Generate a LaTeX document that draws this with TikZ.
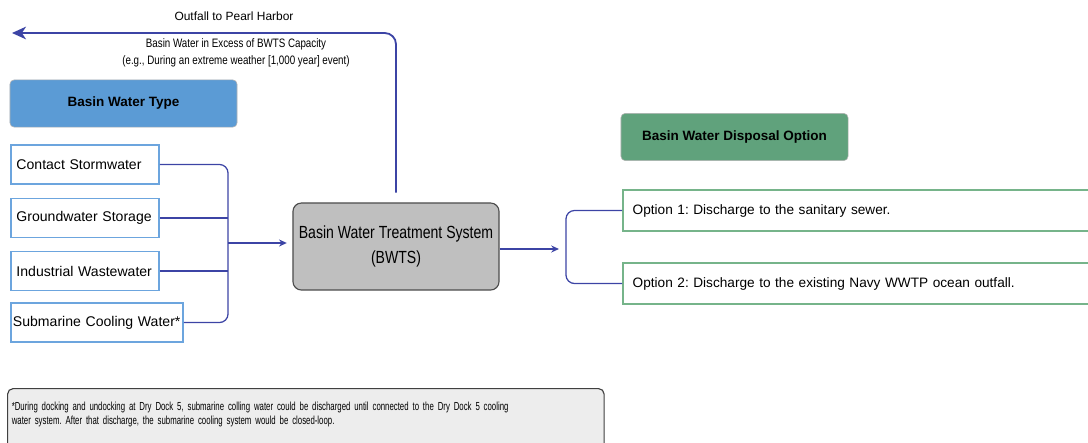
\documentclass[tikz,border=0pt]{standalone}
\usepackage{fontspec}
\setmainfont{Liberation Sans}
\newfontfamily\narrowsans[FakeStretch=0.8]{Liberation Sans}
\newfontfamily\footsans[FakeStretch=0.67]{Liberation Sans}
\usepackage{xcolor}
\usepackage{tikz}
\usetikzlibrary{arrows.meta}
\frenchspacing
\definecolor{typeblue}{RGB}{91,155,213}
\definecolor{srcblue}{RGB}{108,165,222}
\definecolor{dispgreen}{RGB}{96,162,124}
\definecolor{optgreen}{RGB}{118,180,138}
\definecolor{flowline}{RGB}{60,68,165}
\definecolor{bwtsgray}{RGB}{191,191,191}
\definecolor{notegray}{RGB}{237,237,237}

\begin{document}
\begin{tikzpicture}[x=0.025cm, y=-0.025cm,
  header/.style={draw=gray!60, rounded corners=3pt, minimum width=5.675cm, minimum height=1.18cm, font=\fontsize{9.6}{11}\selectfont\bfseries},
  srcbox/.style={draw=srcblue, line width=1.2pt, anchor=west, minimum height=0.975cm, text width=3.42cm, inner xsep=4pt, font=\fontsize{10}{12}\selectfont},
  optbox/.style={draw=optgreen, line width=1.2pt, anchor=west, minimum height=1.025cm, text width=11.5cm, inner xsep=7pt, font=\fontsize{9.7}{12}\selectfont},
  flow/.style={draw=flowline, line width=0.9pt},
  flowarrow/.style={flow, -{Stealth[length=5.5pt, width=5pt]}}]
  \useasboundingbox (0,0) rectangle (1088,442);
  \clip (0,0) rectangle (1088,442);

  \node[header, fill=typeblue] (typehdr) at (123.5,103.5) {Basin Water Type};
  \node[header, fill=dispgreen] (disphdr) at (734.5,137) {Basin Water Disposal Option};

  \node[srcbox] (src1) at (10,164.5) {Contact Stormwater};
  \node[srcbox] (src2) at (10,218) {Groundwater Storage};
  \node[srcbox] (src3) at (10,271) {Industrial Wastewater};
  \node[srcbox, inner xsep=1.5pt, text width=4.2cm] (src4) at (10,322.5) {\mbox{Submarine Cooling Water*}};

  \node[draw=gray!60!black, fill=bwtsgray, line width=0.8pt, rounded corners=6pt, minimum width=5.15cm, minimum height=2.175cm, align=center, font=\narrowsans\fontsize{12.5}{17.5}\selectfont] (bwts) at (396,246.5) {Basin Water Treatment System\\(BWTS)};

  \node[optbox] (opt1) at (622,210.5) {Option 1: Discharge to the sanitary sewer.};
  \node[optbox] (opt2) at (622,283.5) {Option 2: Discharge to the existing Navy WWTP ocean outfall.};

  \node[draw=gray!50!black, fill=notegray, line width=0.8pt, rounded corners=4pt, anchor=north west, inner xsep=3pt, inner ysep=9.5pt, text width=14.7cm, font=\footsans\fontsize{8.3}{10}\selectfont] (note) at (7,388) {*During docking and undocking at Dry Dock 5, submarine colling water could be discharged until connected to the Dry Dock 5 cooling\\water system. After that discharge, the submarine cooling system would be closed-loop.\rule[-10pt]{0pt}{10pt}};

  \node[font=\fontsize{8.5}{10}\selectfont] (outlbl) at (234,16) {Outfall to Pearl Harbor};
  \node[align=center, font=\narrowsans\fontsize{8.7}{12}\selectfont] (excesslbl) at (236,53) {Basin Water in Excess of BWTS Capacity\\(e.g., During an extreme weather [1,000 year] event)};

  \coordinate (harbor) at (12,33);
  \coordinate (srcjoin) at (228,243);
  \coordinate (optjoin) at (566,249);

  \draw[flow, rounded corners=6pt] (src1.east) -| (srcjoin) |- (src4.east);
  \draw[flow] (src2.east) -- (src2.east -| srcjoin);
  \draw[flow] (src3.east) -- (src3.east -| srcjoin);
  \draw[flowarrow, shorten >=4pt] (srcjoin) -- (srcjoin -| bwts.west);

  \draw[flowarrow, shorten >=5pt] (bwts.east |- optjoin) -- (optjoin);
  \draw[flow, rounded corners=6pt] (opt1.west) -| (optjoin) |- (opt2.west);

  \draw[flow, line width=1.3pt, rounded corners=8pt, -{Stealth[length=10pt, width=9pt, inset=3pt]}] ([yshift=7pt]bwts.north) |- (harbor);
\end{tikzpicture}
\end{document}
